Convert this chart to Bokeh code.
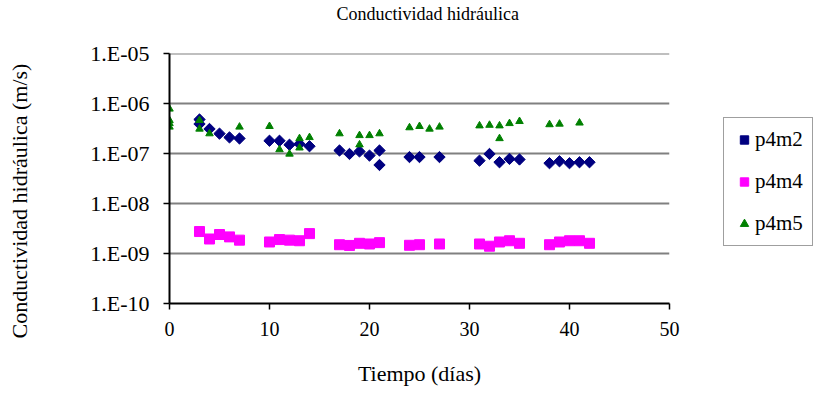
import numpy as np
from bokeh.plotting import figure
from bokeh.models import Range1d, FixedTicker, CustomJSTickFormatter, Title
from bokeh.embed import file_html
from bokeh.resources import INLINE

# ---- data ----
days_m2 = [3, 3, 4, 5, 6, 7, 10, 11, 12, 13, 14, 17, 18, 19, 20, 21, 21,
           24, 25, 27, 31, 32, 33, 34, 35, 38, 39, 40, 41, 42]
k_m2 = [4.8e-7, 3.9e-7, 3.1e-7, 2.5e-7, 2.1e-7, 2.0e-7, 1.8e-7, 1.8e-7, 1.5e-7,
        1.55e-7, 1.4e-7, 1.15e-7, 9.8e-8, 1.1e-7, 9.1e-8, 1.15e-7, 5.9e-8,
        8.5e-8, 8.5e-8, 8.5e-8, 7.2e-8, 9.8e-8, 6.7e-8, 7.8e-8, 7.6e-8,
        6.4e-8, 7.0e-8, 6.4e-8, 6.7e-8, 6.7e-8]

days_m4 = [3, 4, 5, 6, 7, 10, 11, 12, 13, 14, 17, 18, 19, 20, 21,
           24, 25, 27, 31, 32, 33, 34, 35, 38, 39, 40, 41, 42]
k_m4 = [2.75e-9, 1.95e-9, 2.4e-9, 2.15e-9, 1.85e-9, 1.7e-9, 1.9e-9, 1.85e-9,
        1.8e-9, 2.5e-9, 1.5e-9, 1.45e-9, 1.6e-9, 1.55e-9, 1.65e-9, 1.46e-9,
        1.5e-9, 1.55e-9, 1.55e-9, 1.4e-9, 1.7e-9, 1.8e-9, 1.6e-9, 1.5e-9,
        1.7e-9, 1.8e-9, 1.8e-9, 1.6e-9]

days_m5 = [0, 0, 0, 0, 3, 3, 4, 7, 10, 11, 12, 13, 13, 14, 17, 19, 19, 20, 21,
           24, 25, 26, 27, 31, 32, 33, 33, 34, 35, 38, 39, 41]
k_m5 = [7.8e-7, 4.6e-7, 4.0e-7, 3.4e-7, 4.6e-7, 3.1e-7, 2.5e-7, 3.4e-7, 3.5e-7,
        1.2e-7, 9.8e-8, 2.0e-7, 1.3e-7, 2.1e-7, 2.5e-7, 2.3e-7, 1.5e-7, 2.3e-7,
        2.5e-7, 3.3e-7, 3.5e-7, 3.1e-7, 3.4e-7, 3.6e-7, 3.7e-7, 3.6e-7, 2.0e-7,
        4.0e-7, 4.4e-7, 3.8e-7, 3.9e-7, 4.1e-7]

x_ticks = [0, 10, 20, 30, 40, 50]
y_ticks = [1e-10, 1e-9, 1e-8, 1e-7, 1e-6, 1e-5]

title_text = "Conductividad hidráulica"
x_label = "Tiempo (días)"
y_label = "Conductividad hidráulica (m/s)"

FONT = "Liberation Serif"

p = figure(frame_width=500, frame_height=250, y_axis_type="log",
           x_range=Range1d(0, 50), y_range=Range1d(1e-10, 1.002e-5),
           output_backend="svg", toolbar_location=None,
           min_border_left=169, min_border_right=147,
           min_border_top=53, min_border_bottom=91)
p.background_fill_color = "white"
p.border_fill_color = "white"
p.outline_line_color = None
p.title_location = None

# title (spacer keeps it near the top edge)
p.add_layout(Title(text=" ", text_font_size="12px", standoff=14), "above")
p.add_layout(Title(text=title_text, text_font=FONT, text_font_size="18px",
                   text_font_style="normal", text_color="black",
                   align="left", offset=167, vertical_align="bottom",
                   standoff=0), "above")

# axes
p.xaxis.ticker = FixedTicker(ticks=x_ticks)
p.yaxis.ticker = FixedTicker(ticks=y_ticks)
p.yaxis.formatter = CustomJSTickFormatter(code="""
    const e = Math.round(Math.log10(tick));
    const s = String(Math.abs(e)).padStart(2, '0');
    return '1.E' + (e < 0 ? '-' : '+') + s;
""")
for ax in (p.xaxis[0], p.yaxis[0]):
    ax.axis_line_color = "black"
    ax.axis_line_width = 2
    ax.major_tick_line_color = "black"
    ax.major_tick_line_width = 1.5
    ax.major_tick_out = 6
    ax.major_tick_in = 0
    ax.minor_tick_line_color = None
    ax.major_label_text_font = FONT
    ax.major_label_text_color = "black"
    ax.axis_label_text_font = FONT
    ax.axis_label_text_font_size = "22px"
    ax.axis_label_text_font_style = "normal"
    ax.axis_label_text_color = "black"
p.xaxis.major_label_text_font_size = "20px"
p.yaxis.major_label_text_font_size = "22px"
p.xaxis.major_label_standoff = 12
p.yaxis.major_label_standoff = 14

p.xaxis.axis_label = x_label
p.xaxis.axis_label_standoff = 22

# y axis title: spacer then label, so that it sits near the left edge
p.add_layout(Title(text=" ", text_font_size="12px", standoff=40), "left")
p.add_layout(Title(text=y_label, text_font=FONT, text_font_size="22px",
                   text_font_style="normal", text_color="black",
                   align="left", offset=-35, vertical_align="bottom",
                   standoff=0), "left")

p.xgrid.grid_line_color = None
p.ygrid.grid_line_color = "#808080"
p.ygrid.grid_line_width = 2

# series
p.scatter(days_m2, k_m2, marker="square", angle=np.pi / 4, size=8,
          fill_color="#000080", line_color="#000080", legend_label="p4m2")
p.scatter(days_m4, k_m4, marker="square", size=10,
          fill_color="#FF00FF", line_color="#FF00FF", legend_label="p4m4")
p.scatter(days_m5, k_m5, marker="triangle", size=7.5,
          fill_color="#008000", line_color="#008000", legend_label="p4m5")

# legend (to the right of the plot area)
lg = p.legend[0]
p.center.remove(lg)
p.add_layout(lg, "right")
lg.location = (54, 57)
lg.border_line_color = "#404040"
lg.border_line_width = 1
lg.background_fill_color = "white"
lg.label_text_font = FONT
lg.label_text_font_size = "21px"
lg.label_text_color = "black"
lg.glyph_width = 22
lg.glyph_height = 21
lg.label_height = 21
lg.label_standoff = 0
lg.spacing = 17
lg.padding = 9
lg.margin = 0

open("out.html", "w").write(file_html(p, INLINE))
